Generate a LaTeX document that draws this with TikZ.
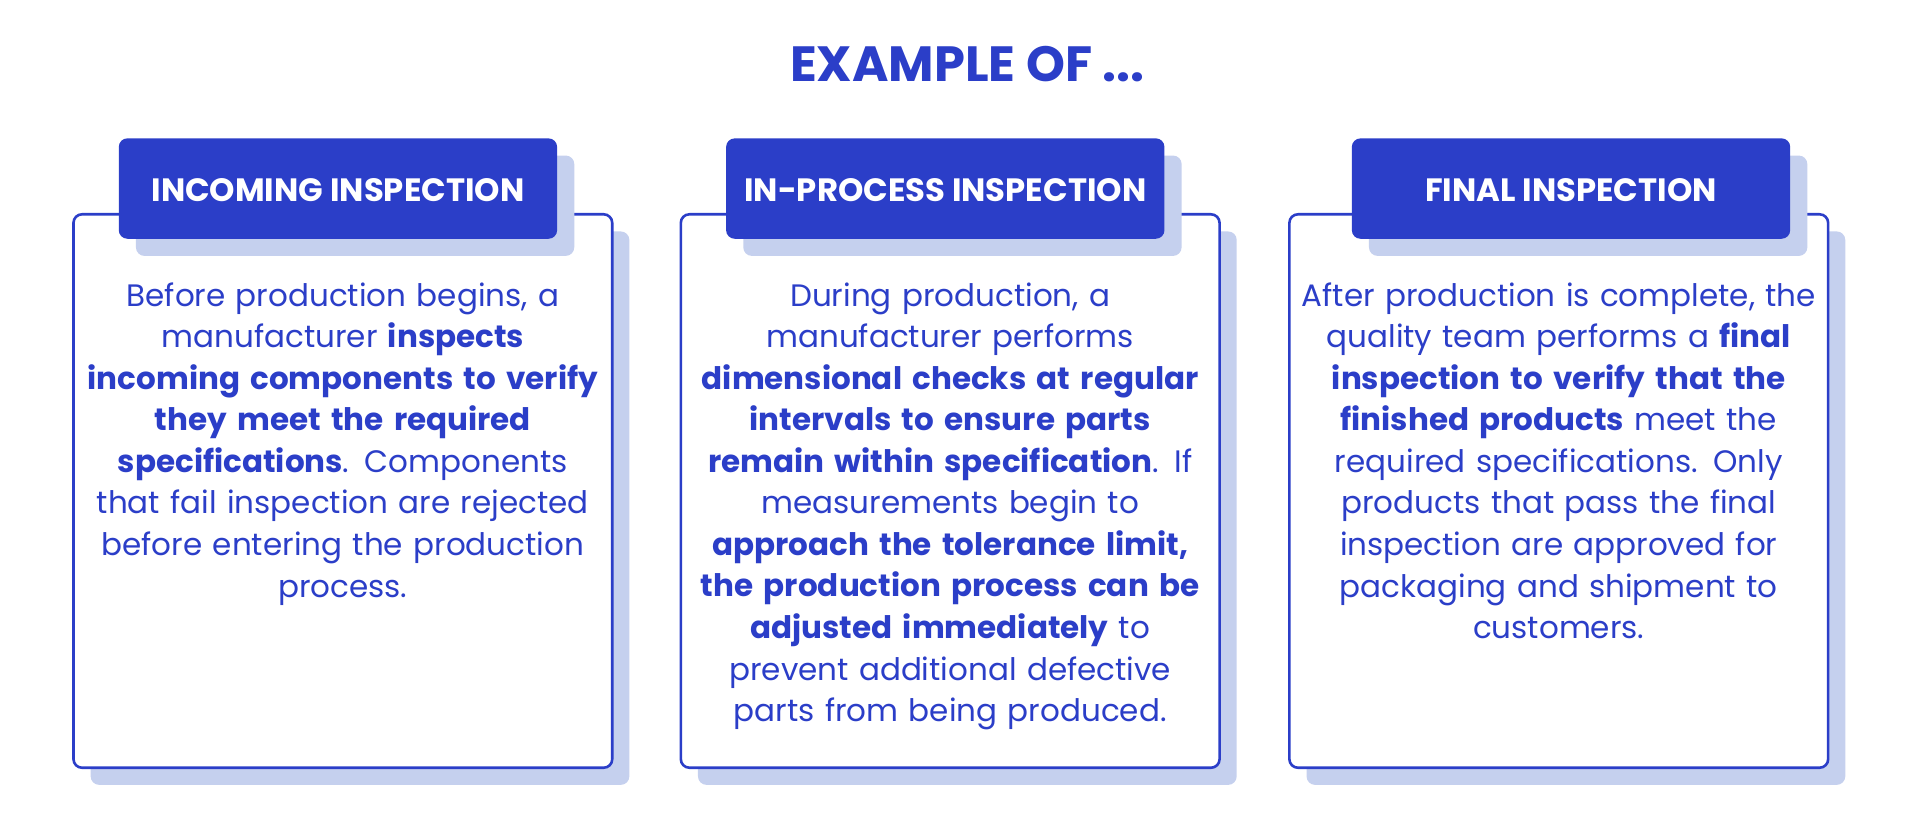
\documentclass[tikz,border=0pt]{standalone}
\usepackage{fontspec}
\setmainfont{Poppins}
\usetikzlibrary{positioning}
\definecolor{mainblue}{HTML}{2B3EC8}
\definecolor{shadowblue}{HTML}{C5D0EE}
\hyphenpenalty=10000
\tikzset{
  card/.style = {draw = mainblue, line width = 0.6pt, fill = white, rounded corners = 2pt},
  cardshadow/.style = {fill = shadowblue, rounded corners = 2pt},
  head/.style = {fill = mainblue, rounded corners = 2pt},
  headtext/.style = {text = white, font = \fontsize{7.5}{9}\selectfont\bfseries},
  body/.style = {text = mainblue, align = center, text width = 4.6cm, inner sep = 0pt,
    font = \fontsize{7.2}{9.65}\selectfont}
}
\begin{document}
\begin{tikzpicture}[x=0.01cm, y=-0.01cm]
\useasboundingbox (0,0) rectangle (1568,670);
\node[text = mainblue, font = \fontsize{11.5}{13}\selectfont\bfseries] (title) at (790,52) {EXAMPLE OF ...};

% cards
\foreach \cx/\hx/\name/\lbl in {60/97/inc/INCOMING INSPECTION, 556/593/inp/IN-PROCESS INSPECTION, 1053/1104/fin/FINAL INSPECTION}{
  \fill[cardshadow] (\cx+14,189) rectangle (\cx+454,641);
  \draw[card] (\cx,175) rectangle (\cx+440,627);
  \fill[cardshadow] (\hx+14,127) rectangle (\hx+372,209);
  \fill[head] (\hx,113) rectangle (\hx+358,195);
  \node[headtext] (\name) at (\hx+179,155) {\lbl};
}

\node[body, anchor = north] (inctxt) at (280,230) {Before production begins, a\\
manufacturer \textbf{inspects}\\ \textbf{incoming components to verify}\\
\textbf{they meet the required}\\ \textbf{specifications}. Components\\
that fail inspection are rejected\\ before entering the production\\ process.};

\node[body, anchor = north] (inptxt) at (776,230) {During production, a\\
manufacturer performs\\ \textbf{dimensional checks at regular}\\
\textbf{intervals to ensure parts}\\ \textbf{remain within specification}. If\\
measurements begin to\\ \textbf{approach the tolerance limit,}\\
\textbf{the production process can be}\\ \textbf{adjusted immediately} to\\
prevent additional defective\\ parts from being produced.};

\node[body, anchor = north] (fintxt) at (1273,230) {After production is complete, the\\
quality team performs a \textbf{final}\\ \textbf{inspection to verify that the}\\
\textbf{finished products} meet the\\ required specifications. Only\\
products that pass the final\\ inspection are approved for\\
packaging and shipment to\\ customers.};
\end{tikzpicture}
\end{document}
